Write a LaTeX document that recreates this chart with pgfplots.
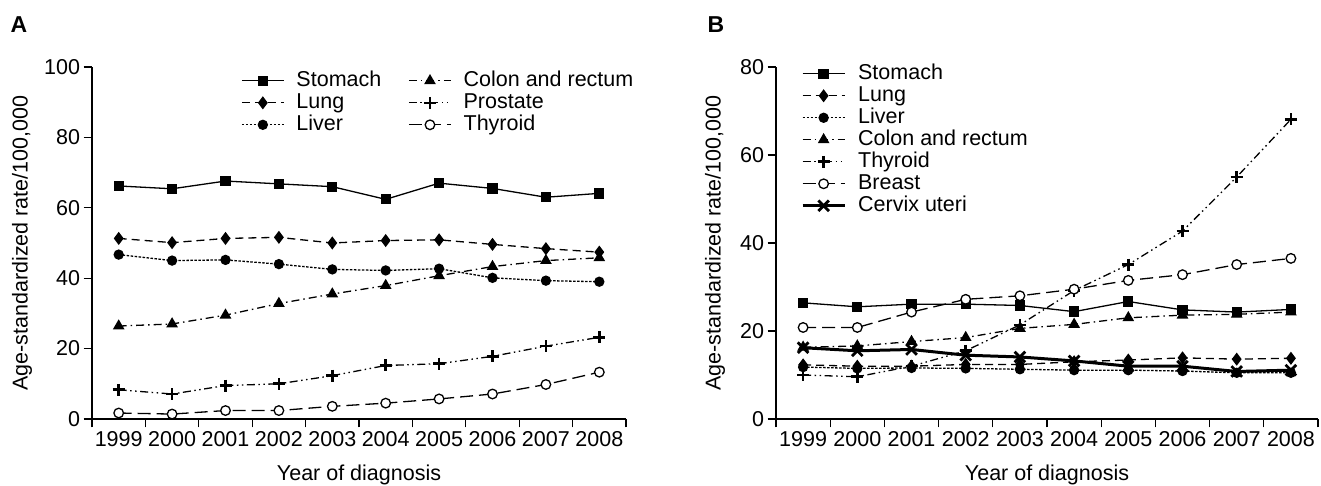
\documentclass[border=0pt]{standalone}
\usepackage{fontspec}
\setmainfont{Liberation Sans}
\usepackage{pgfplots}
\usepackage{pgfplotstable}
\pgfplotsset{compat=1.18}

\newcommand\fs{\fontsize{21.5}{24}\selectfont}

\pgfplotstableread{
x    sto  lun  liv  col  pro  thy
0.5  66.2 51.3 46.7 26.4 8.3  1.7
1.5  65.4 50.1 45.0 27.0 7.1  1.4
2.5  67.6 51.3 45.2 29.5 9.5  2.4
3.5  66.8 51.6 44.0 32.8 10.0 2.4
4.5  66.0 50.0 42.5 35.5 12.3 3.6
5.5  62.4 50.7 42.2 37.9 15.2 4.5
6.5  67.0 50.9 42.7 40.7 15.7 5.7
7.5  65.5 49.6 40.1 43.3 17.8 7.1
8.5  63.0 48.4 39.3 45.0 20.7 9.8
9.5  64.1 47.4 39.0 45.8 23.2 13.3
}\tabA

\pgfplotstableread{
x    sto  lun  liv  col  thy  bre  cer
0.5  26.4 12.3 11.8 16.3 10.0 20.8 16.2
1.5  25.5 12.0 11.5 16.6 9.6  20.8 15.5
2.5  26.1 12.0 11.6 17.6 12.0 24.3 15.8
3.5  26.1 12.4 11.5 18.5 15.5 27.2 14.5
4.5  25.8 12.4 11.3 20.6 21.4 28.0 14.1
5.5  24.4 13.0 11.1 21.5 29.2 29.5 13.2
6.5  26.7 13.4 11.1 23.0 35.1 31.5 12.0
7.5  24.8 13.9 10.9 23.6 42.7 32.8 12.0
8.5  24.3 13.6 10.5 23.8 55.0 35.1 10.8
9.5  24.9 13.8 10.5 24.3 68.1 36.5 11.1
}\tabB

\pgfplotsset{
 panel/.style={
  scale only axis, height=352pt,
  xmin=0, xmax=10, ymin=0,
  axis lines*=left,
  tick align=outside,
  xtick={0,...,10},
  xticklabels={1999,2000,2001,2002,2003,2004,2005,2006,2007,2008},
  x tick label as interval,
  major tick length=8.5pt,
  minor tick length=0pt,
  tick style={black, line width=1.2pt},
  axis line style={line width=1.2pt},
  tick label style={font=\fs},
  /pgf/number format/assume math mode=true,
  xlabel={Year of diagnosis},
  ylabel={Age-standardized rate/100,000},
  every axis x label/.style={at={(axis description cs:0.5,0)}, yshift=-56pt, anchor=center, font=\fs},
  clip=false,
  legend style={draw=none, fill=none, font=\fs, inner sep=0pt,
     cells={anchor=west}, nodes={inner sep=0pt, text height=15pt, text depth=4.5pt},
     row sep=2.5pt,
     /tikz/every odd column/.append style={column sep=12pt}},
  legend image code/.code={\draw[mark repeat=2, mark phase=2] plot coordinates {(0pt,0pt) (21pt,0pt) (42pt,0pt)};},
 },
 sto/.style={black, line width=1.3pt, solid, mark=square*, mark size=4.5pt, mark options={solid, fill=black}},
 lun/.style={black, line width=1.3pt, dash pattern=on 8pt off 5pt, mark=diamond*, mark size=5.5pt, mark options={solid, fill=black}},
 liv/.style={black, line width=1.3pt, dash pattern=on 2.5pt off 1.5pt, mark=*, mark size=4.5pt, mark options={solid, fill=black}},
 col/.style={black, line width=1.3pt, dash pattern=on 8pt off 4pt on 1.5pt off 4pt, mark=triangle*, mark size=5.5pt, mark options={solid, fill=black}},
 pro/.style={black, line width=1.3pt, dash pattern=on 8pt off 3.5pt on 1.5pt off 3.5pt on 1.5pt off 3.5pt, mark=+, mark size=6pt, mark options={solid, line width=2.6pt}},
 thyA/.style={black, line width=1.3pt, dash pattern=on 13pt off 6pt, mark=*, mark size=4.8pt, mark options={solid, fill=white, line width=1.3pt}},
 bre/.style={black, line width=1.3pt, dash pattern=on 13pt off 6pt, mark=*, mark size=4.8pt, mark options={solid, fill=white, line width=1.3pt}},
 cer/.style={black, line width=3pt, solid, mark=x, mark size=7.5pt, mark options={solid, line width=2.8pt}},
}

\begin{document}
\begin{tikzpicture}
\path[use as bounding box] (0,0) rectangle (1321pt,486pt);

\node[font=\fontsize{23}{26}\selectfont\bfseries] at (19pt,461pt) {A};
\node[font=\fontsize{23}{26}\selectfont\bfseries] at (716pt,461pt) {B};

\begin{axis}[panel, at={(92pt,67pt)}, anchor=south west, width=534pt,
  ymax=100, ytick={0,20,...,100},
  every axis y label/.style={at={(axis description cs:-0.131,0.5)}, rotate=90, anchor=center, font=\fs},
  legend columns=2,
  legend style={at={(axis description cs:0.279,0.989)}, anchor=north west,
     /tikz/every even column/.append style={column sep=27pt}},
]
\addplot[sto] table[x=x,y=sto]{\tabA}; \addlegendentry{Stomach}
\addplot[col] table[x=x,y=col]{\tabA}; \addlegendentry{Colon and rectum}
\addplot[lun] table[x=x,y=lun]{\tabA}; \addlegendentry{Lung}
\addplot[pro] table[x=x,y=pro]{\tabA}; \addlegendentry{Prostate}
\addplot[liv] table[x=x,y=liv]{\tabA}; \addlegendentry{Liver}
\addplot[thyA] table[x=x,y=thy]{\tabA}; \addlegendentry{Thyroid}
\end{axis}

\begin{axis}[panel, at={(776pt,67pt)}, anchor=south west, width=542pt,
  ymax=80, ytick={0,20,...,80},
  every axis y label/.style={at={(axis description cs:-0.1125,0.5)}, rotate=90, anchor=center, font=\fs},
  legend style={at={(axis description cs:0.046,1.009)}, anchor=north west},
]
\addplot[sto] table[x=x,y=sto]{\tabB}; \addlegendentry{Stomach}
\addplot[lun] table[x=x,y=lun]{\tabB}; \addlegendentry{Lung}
\addplot[liv] table[x=x,y=liv]{\tabB}; \addlegendentry{Liver}
\addplot[col] table[x=x,y=col]{\tabB}; \addlegendentry{Colon and rectum}
\addplot[pro] table[x=x,y=thy]{\tabB}; \addlegendentry{Thyroid}
\addplot[bre] table[x=x,y=bre]{\tabB}; \addlegendentry{Breast}
\addplot[cer] table[x=x,y=cer]{\tabB}; \addlegendentry{Cervix uteri}
\end{axis}
\end{tikzpicture}
\end{document}
